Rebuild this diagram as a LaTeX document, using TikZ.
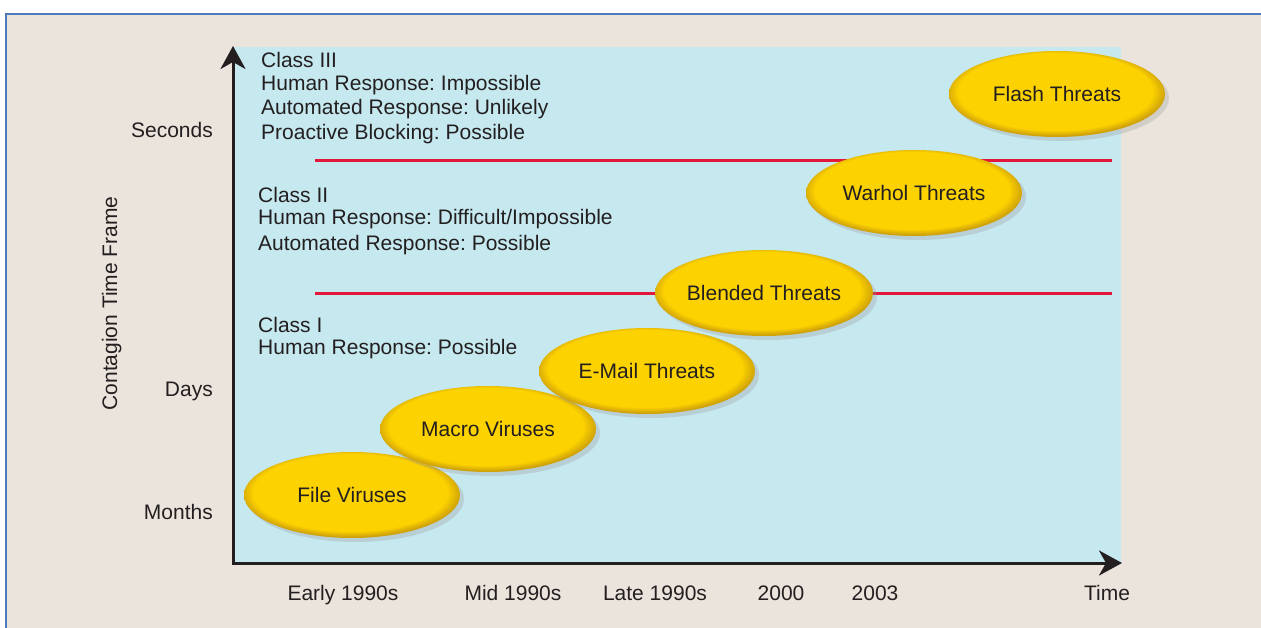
\documentclass[tikz,border=0pt]{standalone}
\usepackage{fontspec}
\setmainfont{Liberation Sans}
\frenchspacing
\usetikzlibrary{arrows.meta,shapes.geometric,shadows}
\definecolor{beige}{HTML}{EAE4DC}
\definecolor{skyb}{HTML}{C6E8EF}
\definecolor{framebl}{HTML}{5079BE}
\definecolor{redl}{HTML}{E3173A}
\definecolor{ink}{HTML}{231F20}
\definecolor{yel}{HTML}{FCD200}
\definecolor{gold}{HTML}{CFA20A}
\pgfdeclareradialshading{ellshade}{\pgfpoint{-0.8bp}{2.6bp}}{color(0bp)=(yel); color(22.5bp)=(yel); color(25.5bp)=(gold); color(50bp)=(gold)}
\tikzset{
  lbl/.style={font=\fontsize{21}{25}\selectfont, text=ink, inner sep=0pt},
  threat/.style={ellipse, minimum width=216pt, minimum height=86pt, inner sep=0pt,
    shading=ellshade, font=\fontsize{21}{25}\selectfont, text=ink,
    drop shadow={shadow xshift=4pt, shadow yshift=-4pt, fill=black!40, opacity=0.3}},
  axis/.style={line width=3pt, draw=ink, -{Stealth[length=23pt,width=25pt,inset=7pt]}},
  sep/.style={line width=3pt, draw=redl}
}
\begin{document}
\begin{tikzpicture}[x=1pt,y=-1pt]
\useasboundingbox (0,0) rectangle (1261,628);
\fill[white] (0,0) rectangle (1261,628);
\fill[beige] (6,14) rectangle (1270,640);
\draw[framebl, line width=2.6pt] (6,640) -- (6,14) -- (1270,14);
\fill[skyb] (233,47) rectangle (1121,563);
% separators
\coordinate (s2a) at (315,161); \coordinate (s2b) at (1112,161);
\coordinate (s1a) at (315,294); \coordinate (s1b) at (1112,294);
\draw[sep] (s2a) -- (s2b);
\draw[sep] (s1a) -- (s1b);
% axes
\coordinate (O) at (233,563);
\coordinate (ytip) at (233,46);
\coordinate (xtip) at (1122,563);
\draw[axis] ([yshift=1.5pt]O) -- (ytip);
\draw[axis] ([xshift=-1.5pt]O) -- (xtip);
% class texts
\node[lbl, anchor=base west] (c3a) at (261,68) {Class III};
\node[lbl, anchor=base west] (c3b) at (261,91) {Human Response: Impossible};
\node[lbl, anchor=base west] (c3c) at (261,115) {Automated Response: Unlikely};
\node[lbl, anchor=base west] (c3d) at (261,140) {Proactive Blocking: Possible};
\node[lbl, anchor=base west] (c2a) at (258,203) {Class II};
\node[lbl, anchor=base west] (c2b) at (258,225) {Human Response: Difficult/Impossible};
\node[lbl, anchor=base west] (c2c) at (258,251) {Automated Response: Possible};
\node[lbl, anchor=base west] (c1a) at (258,332) {Class I};
\node[lbl, anchor=base west] (c1b) at (258,354) {Human Response: Possible};
% y labels
\node[lbl, anchor=base east] (ysec) at (213,138) {Seconds};
\node[lbl, anchor=base east] (yday) at (213,396) {Days};
\node[lbl, anchor=base east] (ymon) at (213,519) {Months};
\node[lbl, rotate=90, anchor=base] (ytitle) at (117,303.5) {Contagion Time Frame};
% x labels
\node[lbl, anchor=base] (x1) at (343,600) {Early 1990s};
\node[lbl, anchor=base] (x2) at (513,600) {Mid 1990s};
\node[lbl, anchor=base] (x3) at (655,600) {Late 1990s};
\node[lbl, anchor=base] (x4) at (781,600) {2000};
\node[lbl, anchor=base] (x5) at (875,600) {2003};
\node[lbl, anchor=base] (x6) at (1107,600) {Time};
% threats
\node[threat] (file) at (352,495) {File Viruses};
\node[threat] (macro) at (488,429) {Macro Viruses};
\node[threat] (mail) at (647,371) {E-Mail Threats};
\node[threat] (blend) at (764,293) {Blended Threats};
\node[threat] (warhol) at (914,193) {Warhol Threats};
\node[threat] (flash) at (1057,94) {Flash Threats};
\end{tikzpicture}
\end{document}
